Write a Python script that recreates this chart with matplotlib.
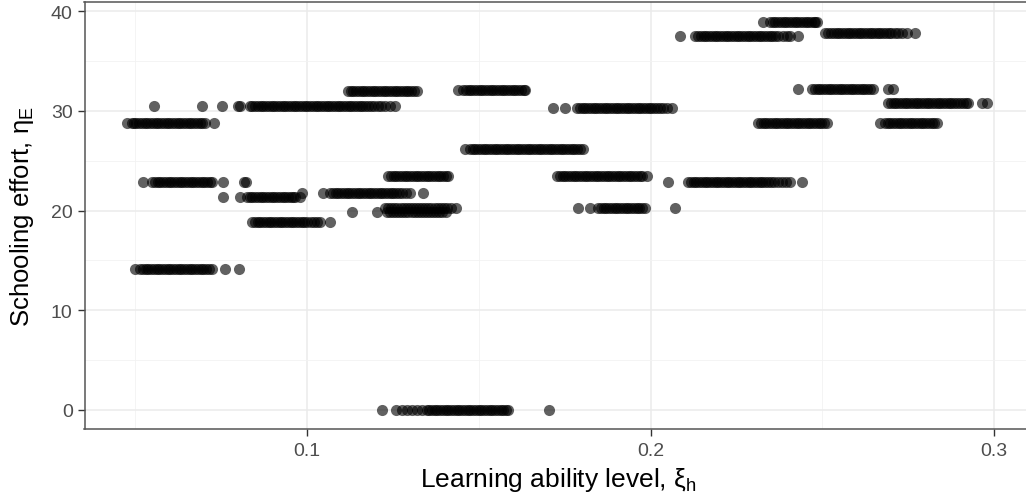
import matplotlib
matplotlib.use("Agg")
import matplotlib.pyplot as plt
from matplotlib.ticker import MultipleLocator

# ---- data: schooling-effort levels and the learning-ability values at each level ----
levels = [28.75, 30.55, 32.0, 32.1, 30.35, 26.2, 23.5, 23.5, 22.9, 21.75,
          20.3, 19.85, 20.27, 22.9, 21.4, 18.8, 14.15, 0.0, 38.96, 37.5,
          37.8, 32.2, 30.85, 28.75, 28.75]

xs_01 = [0.0475, 0.0489, 0.0496, 0.0503, 0.0511, 0.0519, 0.0527, 0.0535, 0.0543, 0.0551,
         0.0559, 0.0567, 0.0575, 0.0583, 0.0591, 0.0599, 0.0607, 0.0615, 0.0623, 0.0631,
         0.0639, 0.0647, 0.0655, 0.0663, 0.0671, 0.0679, 0.0687, 0.0695, 0.0703, 0.0729]
xs_02 = [0.0555, 0.0694, 0.0753, 0.0800, 0.0806, 0.0834, 0.0841, 0.0849, 0.0857, 0.0865,
         0.0873, 0.0881, 0.0889, 0.0897, 0.0905, 0.0913, 0.0921, 0.0929, 0.0937, 0.0945,
         0.0953, 0.0961, 0.0969, 0.0977, 0.0985, 0.0993, 0.1001, 0.1009, 0.1017, 0.1025,
         0.1033, 0.1041, 0.1049, 0.1057, 0.1065, 0.1073, 0.1081, 0.1089, 0.1097, 0.1105,
         0.1113, 0.1121, 0.1129, 0.1137, 0.1145, 0.1153, 0.1161, 0.1169, 0.1177, 0.1185,
         0.1195, 0.1205, 0.1216, 0.1228, 0.1242, 0.1256]
xs_03 = [0.1119, 0.1127, 0.1135, 0.1143, 0.1151, 0.1159, 0.1167, 0.1175, 0.1183, 0.1191,
         0.1199, 0.1207, 0.1215, 0.1223, 0.1231, 0.1239, 0.1247, 0.1255, 0.1263, 0.1271,
         0.1279, 0.1287, 0.1295, 0.1303, 0.1311, 0.1320]
xs_04 = [0.1440, 0.1454, 0.1462, 0.1470, 0.1478, 0.1486, 0.1494, 0.1502, 0.1510, 0.1518,
         0.1526, 0.1534, 0.1542, 0.1550, 0.1558, 0.1566, 0.1574, 0.1582, 0.1590, 0.1598,
         0.1606, 0.1614, 0.1622, 0.1630, 0.1635]
xs_05 = [0.1716, 0.1751, 0.1786, 0.1794, 0.1802, 0.1810, 0.1818, 0.1826, 0.1834, 0.1842,
         0.1850, 0.1858, 0.1866, 0.1874, 0.1882, 0.1890, 0.1898, 0.1906, 0.1914, 0.1922,
         0.1930, 0.1938, 0.1946, 0.1954, 0.1962, 0.1970, 0.1978, 0.1986, 0.1994, 0.2002,
         0.2010, 0.2018, 0.2026, 0.2036, 0.2048, 0.2062]
xs_06 = [0.1460, 0.1474, 0.1482, 0.1490, 0.1498, 0.1506, 0.1514, 0.1522, 0.1530, 0.1538,
         0.1546, 0.1554, 0.1562, 0.1570, 0.1578, 0.1586, 0.1594, 0.1602, 0.1610, 0.1618,
         0.1626, 0.1634, 0.1642, 0.1650, 0.1658, 0.1666, 0.1674, 0.1682, 0.1690, 0.1698,
         0.1706, 0.1714, 0.1722, 0.1730, 0.1738, 0.1746, 0.1754, 0.1762, 0.1770, 0.1778,
         0.1786, 0.1794, 0.1803]
xs_07 = [0.1236, 0.1244, 0.1252, 0.1260, 0.1268, 0.1276, 0.1284, 0.1292, 0.1300, 0.1308,
         0.1316, 0.1324, 0.1332, 0.1340, 0.1348, 0.1356, 0.1364, 0.1372, 0.1380, 0.1388,
         0.1396, 0.1404, 0.1410]
xs_08 = [0.1728, 0.1736, 0.1744, 0.1752, 0.1760, 0.1768, 0.1776, 0.1784, 0.1792, 0.1800,
         0.1808, 0.1816, 0.1824, 0.1832, 0.1840, 0.1848, 0.1856, 0.1864, 0.1872, 0.1880,
         0.1888, 0.1896, 0.1904, 0.1912, 0.1920, 0.1928, 0.1936, 0.1944, 0.1952, 0.1960,
         0.1968, 0.1975, 0.1990]
xs_09 = [0.2050, 0.2109, 0.2117, 0.2125, 0.2133, 0.2141, 0.2149, 0.2157, 0.2165, 0.2173,
         0.2181, 0.2189, 0.2197, 0.2205, 0.2213, 0.2221, 0.2229, 0.2237, 0.2245, 0.2253,
         0.2261, 0.2269, 0.2277, 0.2285, 0.2293, 0.2301, 0.2309, 0.2317, 0.2325, 0.2333,
         0.2341, 0.2350, 0.2360, 0.2371, 0.2383, 0.2395, 0.2406, 0.2440]
xs_10 = [0.0985, 0.1046, 0.1067, 0.1075, 0.1083, 0.1091, 0.1099, 0.1107, 0.1115, 0.1123,
         0.1131, 0.1139, 0.1147, 0.1155, 0.1163, 0.1171, 0.1179, 0.1187, 0.1195, 0.1203,
         0.1211, 0.1219, 0.1227, 0.1235, 0.1243, 0.1251, 0.1259, 0.1267, 0.1276, 0.1288,
         0.1300, 0.1337]
xs_11 = [0.1227, 0.1236, 0.1245, 0.1254, 0.1263, 0.1272, 0.1281, 0.1290, 0.1299, 0.1308,
         0.1317, 0.1326, 0.1335, 0.1344, 0.1353, 0.1362, 0.1371, 0.1380, 0.1389, 0.1398,
         0.1407, 0.1420, 0.1432]
xs_12 = [0.1131, 0.1204, 0.1232, 0.1241, 0.1250, 0.1259, 0.1268, 0.1277, 0.1286, 0.1295,
         0.1304, 0.1313, 0.1322, 0.1331, 0.1340, 0.1349, 0.1358, 0.1367, 0.1376, 0.1385,
         0.1394, 0.1403]
xs_13 = [0.1789, 0.1824, 0.1847, 0.1855, 0.1863, 0.1871, 0.1879, 0.1887, 0.1895, 0.1903,
         0.1911, 0.1919, 0.1927, 0.1935, 0.1943, 0.1951, 0.1959, 0.1967, 0.1975, 0.1984,
         0.2070]
xs_14 = [0.0523, 0.0549, 0.0557, 0.0565, 0.0573, 0.0581, 0.0589, 0.0597, 0.0605, 0.0613,
         0.0621, 0.0629, 0.0637, 0.0645, 0.0653, 0.0661, 0.0669, 0.0677, 0.0685, 0.0693,
         0.0701, 0.0709, 0.0717, 0.0724, 0.0756, 0.0815, 0.0822]
xs_15 = [0.0756, 0.0805, 0.0825, 0.0833, 0.0841, 0.0849, 0.0857, 0.0865, 0.0873, 0.0881,
         0.0889, 0.0897, 0.0905, 0.0913, 0.0921, 0.0929, 0.0937, 0.0945, 0.0953, 0.0960,
         0.0965, 0.0980]
xs_16 = [0.0840, 0.0848, 0.0856, 0.0864, 0.0872, 0.0880, 0.0888, 0.0896, 0.0904, 0.0912,
         0.0920, 0.0928, 0.0936, 0.0944, 0.0952, 0.0960, 0.0968, 0.0976, 0.0984, 0.0992,
         0.1000, 0.1010, 0.1020, 0.1030, 0.1038, 0.1067]
xs_17 = [0.0499, 0.0514, 0.0522, 0.0530, 0.0538, 0.0546, 0.0554, 0.0562, 0.0570, 0.0578,
         0.0586, 0.0594, 0.0602, 0.0610, 0.0618, 0.0626, 0.0634, 0.0642, 0.0650, 0.0658,
         0.0666, 0.0674, 0.0682, 0.0690, 0.0698, 0.0706, 0.0714, 0.0723, 0.0761, 0.0802]
xs_18 = [0.1218, 0.1260, 0.1275, 0.1290, 0.1305, 0.1320, 0.1335, 0.1348, 0.1355, 0.1363,
         0.1371, 0.1379, 0.1387, 0.1395, 0.1403, 0.1411, 0.1419, 0.1427, 0.1435, 0.1443,
         0.1451, 0.1459, 0.1467, 0.1475, 0.1483, 0.1491, 0.1499, 0.1507, 0.1515, 0.1523,
         0.1531, 0.1539, 0.1547, 0.1555, 0.1563, 0.1571, 0.1578, 0.1584, 0.1703]
xs_19 = [0.2327, 0.2347, 0.2355, 0.2363, 0.2371, 0.2379, 0.2387, 0.2395, 0.2403, 0.2411,
         0.2419, 0.2427, 0.2435, 0.2443, 0.2451, 0.2459, 0.2467, 0.2474, 0.2478, 0.2484]
xs_20 = [0.2086, 0.2129, 0.2138, 0.2146, 0.2154, 0.2162, 0.2170, 0.2178, 0.2186, 0.2194,
         0.2202, 0.2210, 0.2218, 0.2226, 0.2234, 0.2242, 0.2250, 0.2258, 0.2266, 0.2274,
         0.2282, 0.2290, 0.2298, 0.2306, 0.2314, 0.2322, 0.2330, 0.2338, 0.2346, 0.2354,
         0.2362, 0.2372, 0.2384, 0.2396, 0.2406, 0.2429]
xs_21 = [0.2508, 0.2517, 0.2525, 0.2533, 0.2541, 0.2549, 0.2557, 0.2565, 0.2573, 0.2581,
         0.2589, 0.2597, 0.2605, 0.2613, 0.2621, 0.2629, 0.2637, 0.2645, 0.2653, 0.2661,
         0.2669, 0.2677, 0.2685, 0.2693, 0.2701, 0.2710, 0.2720, 0.2732, 0.2746, 0.2770]
xs_22 = [0.2429, 0.2470, 0.2478, 0.2486, 0.2494, 0.2502, 0.2510, 0.2518, 0.2526, 0.2534,
         0.2542, 0.2550, 0.2558, 0.2566, 0.2574, 0.2582, 0.2590, 0.2598, 0.2606, 0.2614,
         0.2622, 0.2630, 0.2638, 0.2648, 0.2691, 0.2705]
xs_23 = [0.2691, 0.2699, 0.2707, 0.2715, 0.2723, 0.2731, 0.2739, 0.2747, 0.2755, 0.2763,
         0.2771, 0.2779, 0.2787, 0.2795, 0.2803, 0.2811, 0.2819, 0.2827, 0.2835, 0.2843,
         0.2851, 0.2859, 0.2867, 0.2875, 0.2883, 0.2891, 0.2899, 0.2908, 0.2917, 0.2924,
         0.2964, 0.2979]
xs_24 = [0.2313, 0.2321, 0.2329, 0.2337, 0.2345, 0.2353, 0.2361, 0.2369, 0.2377, 0.2385,
         0.2393, 0.2401, 0.2409, 0.2417, 0.2425, 0.2433, 0.2441, 0.2449, 0.2457, 0.2465,
         0.2473, 0.2481, 0.2489, 0.2497, 0.2505, 0.2513]
xs_25 = [0.2668, 0.2682, 0.2690, 0.2698, 0.2706, 0.2714, 0.2722, 0.2730, 0.2738, 0.2746,
         0.2754, 0.2762, 0.2770, 0.2778, 0.2786, 0.2794, 0.2802, 0.2810, 0.2818, 0.2826,
         0.2834]

x_groups = [xs_01, xs_02, xs_03, xs_04, xs_05, xs_06, xs_07, xs_08, xs_09, xs_10,
            xs_11, xs_12, xs_13, xs_14, xs_15, xs_16, xs_17, xs_18, xs_19, xs_20,
            xs_21, xs_22, xs_23, xs_24, xs_25]

x_ticks = [0.1, 0.2, 0.3]
x_ticklabels = ["0.1", "0.2", "0.3"]
y_ticks = [0, 10, 20, 30, 40]
x_title = "Learning ability level, ξ$_\\mathrm{h}$"
y_title = "Schooling effort, η$_\\mathrm{E}$"

# ---- styling ----
plt.rcParams["font.family"] = ["Liberation Sans", "DejaVu Sans"]
plt.rcParams["mathtext.fontset"] = "custom"
plt.rcParams["mathtext.rm"] = "Liberation Sans"
plt.rcParams["mathtext.it"] = "Liberation Sans:italic"

W, H = 1026, 502
fig = plt.figure(figsize=(W / 100, H / 100), dpi=100)
left_px, right_px, top_px, bottom_px = 84.5, 1032, 3, 430
ax = fig.add_axes([left_px / W, (H - bottom_px) / H,
                   (right_px - left_px) / W, (bottom_px - top_px) / H])

xs_all, ys_all = [], []
for lv, xs in zip(levels, x_groups):
    xs_all.extend(xs)
    ys_all.extend([lv] * len(xs))
ax.scatter(xs_all, ys_all, s=64, color="black", alpha=0.62, linewidths=0, zorder=3)

ax.set_xlim(0.0352, 0.3110)
ax.set_ylim(-1.95, 40.95)
ax.set_xticks(x_ticks)
ax.set_xticklabels(x_ticklabels)
ax.set_yticks(y_ticks)
ax.xaxis.set_minor_locator(MultipleLocator(0.05))
ax.yaxis.set_minor_locator(MultipleLocator(5))

ax.grid(True, which="major", color="#EBEBEB", linewidth=1.1, zorder=0)
ax.grid(True, which="minor", color="#F2F2F2", linewidth=0.6, zorder=0)
ax.set_axisbelow(True)
ax.tick_params(which="minor", length=0)
ax.tick_params(which="major", length=5, width=1.0, color="#333333",
               labelsize=14, labelcolor="#4D4D4D")
ax.tick_params(axis="x", pad=4.5)
ax.tick_params(axis="y", pad=3.5)
for sp in ax.spines.values():
    sp.set_color("#555555")
    sp.set_linewidth(1.1)

ax.set_xlabel(x_title, fontsize=19, color="black")
ax.set_ylabel(y_title, fontsize=18.5, color="black")
ax.xaxis.set_label_coords(0.5, -0.084)
ax.yaxis.set_label_coords(-0.051, 0.5)

fig.savefig("out.png", dpi=100)
